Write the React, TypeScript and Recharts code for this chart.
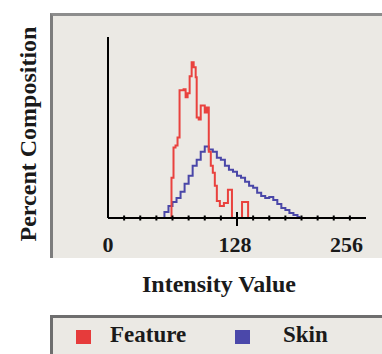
import { LineChart, Line, XAxis, YAxis } from "recharts";

// x ticks every 16 intensity units, labels only on the major ones
const xTicks = [0, 16, 32, 48, 64, 80, 96, 112, 128, 144, 160, 176, 192, 208, 224, 240, 256];
const xLabels = [0, 128, 256];

// Feature histogram (percent), step left edges
const featureX = [62, 63, 65, 67, 69, 71, 73, 75, 77, 79, 81, 83, 85, 87, 88, 90, 92, 94, 96, 98, 100, 102, 104, 106, 108, 111, 115, 119, 123, 133, 139];
const featureY = [0, 4.0, 7.0, 7.2, 8.0, 12.7, 12.7, 12.8, 12.0, 12.4, 14.1, 15.5, 15.0, 14.0, 10.0, 9.8, 11.2, 11.2, 10.5, 11.0, 6.6, 5.2, 4.5, 3.2, 1.7, 1.2, 1.5, 2.8, 0, 1.6, 0];

// Skin histogram (percent)
const skinX = [52, 56, 60, 64, 68, 72, 76, 80, 84, 88, 92, 96, 100, 104, 108, 112, 116, 120, 124, 128, 132, 136, 140, 144, 148, 152, 156, 160, 164, 168, 172, 176, 180, 184, 188, 190];
const skinY = [0, 0.6, 1.2, 1.6, 2.0, 2.6, 3.4, 4.2, 5.2, 5.8, 6.6, 7.1, 6.8, 6.6, 6.0, 5.8, 5.2, 4.8, 4.6, 4.2, 4.0, 3.6, 3.2, 3.0, 2.5, 2.2, 2.0, 2.1, 1.8, 1.4, 1.0, 0.8, 0.5, 0.3, 0.1, 0];

const featureData = featureX.map((x, i) => ({ x, y: featureY[i] }));
const skinData = skinX.map((x, i) => ({ x, y: skinY[i] }));

const FONT = "'Liberation Serif', 'DejaVu Serif', serif";
const RED = "#e9423e";
const BLUE = "#4a47a8";
const PANEL = "#ebe9e4";
const TEXT = "#1a1a1a";

function Tick(props: any) {
  const { x, payload } = props;
  const v = payload.value;
  const major = v === 128;
  const ay = 218;
  let label = null;
  if (xLabels.includes(v)) {
    const anchor = v === 256 ? "end" : "middle";
    const lx = v === 256 ? x - 3 : v === 128 ? x - 2 : x;
    label = (
      <text x={lx} y={ay + 34} textAnchor={anchor} fontFamily={FONT} fontSize={22} fontWeight="bold" fill={TEXT}>
        {v}
      </text>
    );
  }
  return (
    <g>
      {v !== 0 && v !== 256 && (
        <line x1={x} x2={x} y1={major ? ay - 6 : ay - 2.5} y2={major ? ay + 8 : ay + 2.5} stroke="#000" strokeWidth={2} />
      )}
      {label}
    </g>
  );
}

export default function App() {
  return (
    <div style={{ position: "absolute", left: 0, top: 0, width: 382, height: 354, background: "#fff", overflow: "hidden" }}>
      <div
        style={{
          position: "absolute", left: 50, top: 13, width: 340, height: 245, background: PANEL,
          borderTop: "3px solid #8d8d8d", borderLeft: "3px solid #7d7d7d", boxSizing: "border-box",
        }}
      />
      <div
        style={{
          position: "absolute", left: 50, top: 315, width: 340, height: 50, background: PANEL,
          borderTop: "3px solid #6e6e6e", borderLeft: "3px solid #6e6e6e", boxSizing: "border-box",
        }}
      />
      <div style={{ position: "absolute", left: 0, top: 0 }}>
        <LineChart width={382} height={354} margin={{ top: 37, right: 16, left: 107, bottom: 106 }}>
          <XAxis
            type="number"
            dataKey="x"
            domain={[0, 256]}
            ticks={xTicks}
            interval={0}
            height={30}
            tickLine={false}
            tickSize={0}
            tickMargin={0}
            tick={<Tick />}
            axisLine={{ stroke: "#000", strokeWidth: 2 }}
            allowDuplicatedCategory={false}
          />
          <YAxis
            type="number"
            domain={[0, 18]}
            width={1}
            tick={false}
            tickLine={false}
            axisLine={{ stroke: "#000", strokeWidth: 2 }}
          />
          <Line data={skinData} dataKey="y" type="stepAfter" stroke={BLUE} strokeWidth={2} dot={false} isAnimationActive={false} />
          <Line data={featureData} dataKey="y" type="stepAfter" stroke={RED} strokeWidth={2} dot={false} isAnimationActive={false} />
        </LineChart>
      </div>
      <div
        style={{
          position: "absolute", left: 28, top: 134, transform: "translate(-50%, -50%) rotate(-90deg)",
          fontFamily: FONT, fontSize: 24, fontWeight: "bold", whiteSpace: "nowrap", color: TEXT,
        }}
      >
        Percent Composition
      </div>
      <div
        style={{
          position: "absolute", left: 219, top: 284, transform: "translate(-50%, -50%)",
          fontFamily: FONT, fontSize: 24, fontWeight: "bold", whiteSpace: "nowrap", color: TEXT,
        }}
      >
        Intensity Value
      </div>
      <div style={{ position: "absolute", left: 76, top: 330, width: 15, height: 14, background: "#e63b3b" }} />
      <div style={{ position: "absolute", left: 110, top: 322, fontFamily: FONT, fontSize: 23, fontWeight: "bold", color: TEXT }}>Feature</div>
      <div style={{ position: "absolute", left: 235, top: 330, width: 15, height: 14, background: "#4b48aa" }} />
      <div style={{ position: "absolute", left: 283, top: 322, fontFamily: FONT, fontSize: 23, fontWeight: "bold", color: TEXT }}>Skin</div>
    </div>
  );
}
